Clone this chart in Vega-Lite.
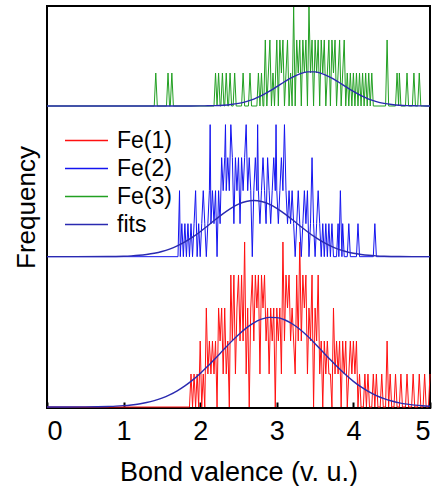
{
  "$schema": "https://vega.github.io/schema/vega-lite/v6.json",
  "width": 383,
  "height": 402,
  "autosize": {"type": "none"},
  "padding": {"left": 47, "top": 6, "right": 8, "bottom": 78},
  "config": {
    "view": {"stroke": "black", "strokeWidth": 2},
    "font": "Liberation Sans"
  },
  "datasets": {
    "red": [
      {"v":0,"n":0},{"v":1.86,"n":0},{"v":1.88,"n":1},{"v":1.90,"n":0},{"v":1.92,"n":1},{"v":1.94,"n":0},{"v":1.96,"n":1},{"v":1.98,"n":0},{"v":2.00,"n":2},{"v":2.02,"n":0},{"v":2.04,"n":1},{"v":2.06,"n":0},{"v":2.08,"n":3},{"v":2.10,"n":1},{"v":2.12,"n":2},{"v":2.14,"n":1},{"v":2.16,"n":2},{"v":2.18,"n":1},{"v":2.20,"n":2},{"v":2.22,"n":0},{"v":2.24,"n":3},{"v":2.26,"n":2},{"v":2.28,"n":3},{"v":2.30,"n":1},{"v":2.32,"n":3},{"v":2.34,"n":1},{"v":2.36,"n":2},{"v":2.38,"n":0},{"v":2.40,"n":4},{"v":2.42,"n":2},{"v":2.44,"n":4},{"v":2.46,"n":1},{"v":2.48,"n":3},{"v":2.50,"n":4},{"v":2.52,"n":2},{"v":2.54,"n":4},{"v":2.56,"n":2},{"v":2.58,"n":5},{"v":2.60,"n":1},{"v":2.62,"n":3},{"v":2.64,"n":0},{"v":2.66,"n":3},{"v":2.68,"n":4},{"v":2.70,"n":2},{"v":2.72,"n":4},{"v":2.74,"n":3},{"v":2.76,"n":4},{"v":2.78,"n":1},{"v":2.80,"n":4},{"v":2.82,"n":3},{"v":2.84,"n":4},{"v":2.86,"n":2},{"v":2.88,"n":3},{"v":2.90,"n":1},{"v":2.92,"n":3},{"v":2.94,"n":2},{"v":2.96,"n":3},{"v":2.98,"n":0},{"v":3.00,"n":3},{"v":3.02,"n":2},{"v":3.04,"n":3},{"v":3.06,"n":1},{"v":3.08,"n":5},{"v":3.10,"n":2},{"v":3.12,"n":4},{"v":3.14,"n":3},{"v":3.16,"n":4},{"v":3.18,"n":2},{"v":3.20,"n":3},{"v":3.22,"n":2},{"v":3.24,"n":1},{"v":3.26,"n":4},{"v":3.28,"n":2},{"v":3.30,"n":5},{"v":3.32,"n":2},{"v":3.34,"n":4},{"v":3.36,"n":3},{"v":3.38,"n":4},{"v":3.40,"n":1},{"v":3.42,"n":3},{"v":3.44,"n":2},{"v":3.46,"n":4},{"v":3.48,"n":0},{"v":3.50,"n":3},{"v":3.52,"n":2},{"v":3.54,"n":4},{"v":3.56,"n":1},{"v":3.58,"n":2},{"v":3.60,"n":0},{"v":3.62,"n":2},{"v":3.64,"n":1},{"v":3.66,"n":2},{"v":3.68,"n":1},{"v":3.70,"n":1},{"v":3.72,"n":0},{"v":3.74,"n":3},{"v":3.76,"n":1},{"v":3.78,"n":2},{"v":3.80,"n":1},{"v":3.82,"n":2},{"v":3.84,"n":0},{"v":3.86,"n":2},{"v":3.88,"n":1},{"v":3.90,"n":2},{"v":3.92,"n":0},{"v":3.94,"n":1},{"v":3.96,"n":2},{"v":3.98,"n":1},{"v":4.00,"n":2},{"v":4.02,"n":1},{"v":4.04,"n":2},{"v":4.06,"n":0},{"v":4.08,"n":1},{"v":4.10,"n":0},{"v":4.13,"n":0},{"v":4.15,"n":1},{"v":4.17,"n":0},{"v":4.19,"n":1},{"v":4.21,"n":0},{"v":4.24,"n":0},{"v":4.26,"n":1},{"v":4.28,"n":0},{"v":4.30,"n":1},{"v":4.32,"n":0},{"v":4.35,"n":0},{"v":4.37,"n":1},{"v":4.39,"n":0},{"v":4.42,"n":0},{"v":4.44,"n":2},{"v":4.46,"n":0},{"v":4.48,"n":1},{"v":4.50,"n":0},{"v":4.53,"n":0},{"v":4.55,"n":1},{"v":4.57,"n":0},{"v":4.60,"n":0},{"v":4.62,"n":1},{"v":4.64,"n":0},{"v":4.68,"n":0},{"v":4.70,"n":1},{"v":4.72,"n":0},{"v":4.76,"n":0},{"v":4.78,"n":1},{"v":4.80,"n":0},{"v":4.84,"n":0},{"v":4.86,"n":1},{"v":4.88,"n":0},{"v":4.91,"n":0},{"v":4.93,"n":1},{"v":4.95,"n":0},{"v":4.98,"n":0},{"v":5.00,"n":1}
    ],
    "blue": [
      {"v":0,"n":0},{"v":1.71,"n":0},{"v":1.73,"n":2},{"v":1.74,"n":0},{"v":1.76,"n":1},{"v":1.78,"n":0},{"v":1.80,"n":1},{"v":1.82,"n":0},{"v":1.84,"n":1},{"v":1.86,"n":0},{"v":1.88,"n":1},{"v":1.90,"n":0},{"v":1.92,"n":1},{"v":1.94,"n":2},{"v":1.96,"n":0},{"v":1.98,"n":1},{"v":2.00,"n":0},{"v":2.02,"n":1},{"v":2.04,"n":2},{"v":2.06,"n":1},{"v":2.08,"n":0},{"v":2.10,"n":1},{"v":2.12,"n":2},{"v":2.13,"n":4},{"v":2.14,"n":1},{"v":2.16,"n":2},{"v":2.18,"n":1},{"v":2.20,"n":2},{"v":2.22,"n":0},{"v":2.24,"n":2},{"v":2.26,"n":1},{"v":2.28,"n":3},{"v":2.30,"n":2},{"v":2.32,"n":3},{"v":2.33,"n":4},{"v":2.34,"n":2},{"v":2.36,"n":3},{"v":2.38,"n":2},{"v":2.40,"n":4},{"v":2.42,"n":3},{"v":2.44,"n":1},{"v":2.46,"n":3},{"v":2.48,"n":2},{"v":2.50,"n":3},{"v":2.52,"n":1},{"v":2.54,"n":3},{"v":2.56,"n":2},{"v":2.58,"n":3},{"v":2.60,"n":4},{"v":2.62,"n":2},{"v":2.64,"n":3},{"v":2.66,"n":2},{"v":2.68,"n":0},{"v":2.70,"n":2},{"v":2.72,"n":3},{"v":2.74,"n":2},{"v":2.75,"n":4},{"v":2.76,"n":2},{"v":2.78,"n":1},{"v":2.80,"n":2},{"v":2.82,"n":3},{"v":2.84,"n":2},{"v":2.86,"n":1},{"v":2.88,"n":3},{"v":2.90,"n":2},{"v":2.92,"n":1},{"v":2.94,"n":2},{"v":2.96,"n":3},{"v":2.98,"n":2},{"v":2.99,"n":4},{"v":3.00,"n":2},{"v":3.02,"n":1},{"v":3.04,"n":2},{"v":3.06,"n":3},{"v":3.08,"n":2},{"v":3.10,"n":4},{"v":3.12,"n":2},{"v":3.14,"n":1},{"v":3.16,"n":2},{"v":3.18,"n":1},{"v":3.20,"n":2},{"v":3.22,"n":1},{"v":3.24,"n":0},{"v":3.26,"n":1},{"v":3.28,"n":2},{"v":3.30,"n":1},{"v":3.32,"n":0},{"v":3.34,"n":1},{"v":3.36,"n":2},{"v":3.38,"n":1},{"v":3.40,"n":2},{"v":3.42,"n":0},{"v":3.44,"n":1},{"v":3.46,"n":3},{"v":3.48,"n":1},{"v":3.50,"n":0},{"v":3.52,"n":1},{"v":3.54,"n":2},{"v":3.56,"n":1},{"v":3.58,"n":0},{"v":3.60,"n":1},{"v":3.62,"n":0},{"v":3.64,"n":1},{"v":3.66,"n":0},{"v":3.68,"n":1},{"v":3.70,"n":0},{"v":3.72,"n":1},{"v":3.74,"n":0},{"v":3.78,"n":0},{"v":3.80,"n":1},{"v":3.81,"n":0},{"v":3.83,"n":2},{"v":3.85,"n":0},{"v":3.86,"n":1},{"v":3.88,"n":0},{"v":3.92,"n":0},{"v":3.94,"n":1},{"v":3.96,"n":0},{"v":4.04,"n":0},{"v":4.06,"n":1},{"v":4.08,"n":0},{"v":4.26,"n":0},{"v":4.28,"n":1},{"v":4.30,"n":0},{"v":5.0,"n":0}
    ],
    "green": [
      {"v":0,"n":0},{"v":1.40,"n":0},{"v":1.42,"n":1},{"v":1.44,"n":0},{"v":1.56,"n":0},{"v":1.58,"n":1},{"v":1.60,"n":0},{"v":1.61,"n":0},{"v":1.63,"n":1},{"v":1.65,"n":0},{"v":2.18,"n":0},{"v":2.20,"n":1},{"v":2.22,"n":0},{"v":2.24,"n":1},{"v":2.26,"n":0},{"v":2.27,"n":0},{"v":2.29,"n":1},{"v":2.31,"n":0},{"v":2.32,"n":0},{"v":2.34,"n":1},{"v":2.36,"n":0},{"v":2.37,"n":0},{"v":2.39,"n":1},{"v":2.41,"n":0},{"v":2.43,"n":0},{"v":2.45,"n":1},{"v":2.47,"n":0},{"v":2.54,"n":0},{"v":2.56,"n":1},{"v":2.58,"n":0},{"v":2.63,"n":0},{"v":2.65,"n":1},{"v":2.67,"n":0},{"v":2.74,"n":0},{"v":2.76,"n":1},{"v":2.78,"n":0},{"v":2.80,"n":1},{"v":2.82,"n":0},{"v":2.83,"n":0},{"v":2.85,"n":2},{"v":2.87,"n":0},{"v":2.89,"n":1},{"v":2.91,"n":2},{"v":2.93,"n":0},{"v":2.95,"n":1},{"v":2.97,"n":0},{"v":3.00,"n":2},{"v":3.02,"n":0},{"v":3.04,"n":2},{"v":3.06,"n":1},{"v":3.08,"n":2},{"v":3.10,"n":0},{"v":3.12,"n":1},{"v":3.14,"n":2},{"v":3.16,"n":0},{"v":3.18,"n":1},{"v":3.20,"n":0},{"v":3.22,"n":3},{"v":3.24,"n":0},{"v":3.26,"n":2},{"v":3.28,"n":1},{"v":3.30,"n":2},{"v":3.32,"n":0},{"v":3.34,"n":2},{"v":3.36,"n":1},{"v":3.38,"n":2},{"v":3.40,"n":0},{"v":3.42,"n":3},{"v":3.44,"n":1},{"v":3.46,"n":2},{"v":3.48,"n":0},{"v":3.50,"n":2},{"v":3.52,"n":1},{"v":3.54,"n":2},{"v":3.56,"n":0},{"v":3.58,"n":2},{"v":3.60,"n":1},{"v":3.62,"n":2},{"v":3.64,"n":0},{"v":3.66,"n":1},{"v":3.68,"n":2},{"v":3.70,"n":0},{"v":3.72,"n":2},{"v":3.74,"n":1},{"v":3.76,"n":2},{"v":3.78,"n":0},{"v":3.80,"n":1},{"v":3.82,"n":2},{"v":3.84,"n":0},{"v":3.86,"n":1},{"v":3.88,"n":2},{"v":3.90,"n":0},{"v":3.92,"n":1},{"v":3.94,"n":0},{"v":3.96,"n":1},{"v":3.98,"n":0},{"v":4.00,"n":1},{"v":4.02,"n":0},{"v":4.04,"n":1},{"v":4.06,"n":0},{"v":4.08,"n":1},{"v":4.10,"n":0},{"v":4.12,"n":1},{"v":4.14,"n":0},{"v":4.16,"n":1},{"v":4.18,"n":0},{"v":4.20,"n":1},{"v":4.22,"n":0},{"v":4.24,"n":1},{"v":4.26,"n":0},{"v":4.42,"n":0},{"v":4.44,"n":2},{"v":4.46,"n":0},{"v":4.55,"n":0},{"v":4.57,"n":1},{"v":4.59,"n":0},{"v":4.60,"n":1},{"v":4.62,"n":0},{"v":4.68,"n":0},{"v":4.70,"n":1},{"v":4.72,"n":0},{"v":4.77,"n":0},{"v":4.79,"n":1},{"v":4.81,"n":0},{"v":4.84,"n":0},{"v":4.86,"n":1},{"v":4.88,"n":0},{"v":5.0,"n":0}
    ],
    "fitR": [
      {"v":0,"n":0},{"v":0.5,"n":0.004},{"v":0.8,"n":0.017},{"v":0.9,"n":0.026},{"v":1.0,"n":0.041},{"v":1.1,"n":0.063},{"v":1.2,"n":0.093},{"v":1.3,"n":0.136},{"v":1.4,"n":0.194},{"v":1.5,"n":0.270},{"v":1.6,"n":0.368},{"v":1.7,"n":0.491},{"v":1.8,"n":0.640},{"v":1.9,"n":0.815},{"v":2.0,"n":1.016},{"v":2.1,"n":1.240},{"v":2.2,"n":1.478},{"v":2.3,"n":1.723},{"v":2.4,"n":1.966},{"v":2.5,"n":2.192},{"v":2.6,"n":2.391},{"v":2.7,"n":2.551},{"v":2.8,"n":2.661},{"v":2.9,"n":2.715},{"v":3.0,"n":2.709},{"v":3.1,"n":2.644},{"v":3.2,"n":2.523},{"v":3.3,"n":2.354},{"v":3.4,"n":2.149},{"v":3.5,"n":1.918},{"v":3.6,"n":1.674},{"v":3.7,"n":1.429},{"v":3.8,"n":1.194},{"v":3.9,"n":0.975},{"v":4.0,"n":0.778},{"v":4.1,"n":0.608},{"v":4.2,"n":0.464},{"v":4.3,"n":0.347},{"v":4.4,"n":0.253},{"v":4.5,"n":0.181},{"v":4.6,"n":0.126},{"v":4.7,"n":0.086},{"v":4.8,"n":0.058},{"v":4.9,"n":0.038},{"v":5.0,"n":0.024}
    ],
    "fitB": [
      {"v":0,"n":0},{"v":0.8,"n":0.004},{"v":1.0,"n":0.014},{"v":1.1,"n":0.025},{"v":1.2,"n":0.041},{"v":1.3,"n":0.067},{"v":1.4,"n":0.104},{"v":1.5,"n":0.157},{"v":1.6,"n":0.230},{"v":1.7,"n":0.326},{"v":1.8,"n":0.446},{"v":1.9,"n":0.590},{"v":2.0,"n":0.756},{"v":2.1,"n":0.938},{"v":2.2,"n":1.125},{"v":2.3,"n":1.305},{"v":2.4,"n":1.465},{"v":2.5,"n":1.591},{"v":2.6,"n":1.672},{"v":2.7,"n":1.700},{"v":2.8,"n":1.672},{"v":2.9,"n":1.591},{"v":3.0,"n":1.465},{"v":3.1,"n":1.305},{"v":3.2,"n":1.125},{"v":3.3,"n":0.938},{"v":3.4,"n":0.756},{"v":3.5,"n":0.590},{"v":3.6,"n":0.446},{"v":3.7,"n":0.326},{"v":3.8,"n":0.230},{"v":3.9,"n":0.157},{"v":4.0,"n":0.104},{"v":4.1,"n":0.067},{"v":4.2,"n":0.041},{"v":4.3,"n":0.025},{"v":4.4,"n":0.014},{"v":4.6,"n":0.004},{"v":5.0,"n":0}
    ],
    "fitG": [
      {"v":0,"n":0},{"v":1.8,"n":0},{"v":2.0,"n":0.003},{"v":2.1,"n":0.006},{"v":2.2,"n":0.012},{"v":2.3,"n":0.024},{"v":2.4,"n":0.046},{"v":2.5,"n":0.081},{"v":2.6,"n":0.134},{"v":2.7,"n":0.211},{"v":2.8,"n":0.314},{"v":2.9,"n":0.441},{"v":3.0,"n":0.586},{"v":3.1,"n":0.735},{"v":3.2,"n":0.871},{"v":3.3,"n":0.976},{"v":3.4,"n":1.033},{"v":3.5,"n":1.033},{"v":3.6,"n":0.976},{"v":3.7,"n":0.871},{"v":3.8,"n":0.735},{"v":3.9,"n":0.586},{"v":4.0,"n":0.441},{"v":4.1,"n":0.314},{"v":4.2,"n":0.211},{"v":4.3,"n":0.134},{"v":4.4,"n":0.081},{"v":4.5,"n":0.046},{"v":4.6,"n":0.024},{"v":4.7,"n":0.012},{"v":4.8,"n":0.006},{"v":4.9,"n":0.003},{"v":5.0,"n":0.001}
    ]
  },
  "layer": [
    {
      "layer": [
        {
          "data": {"name": "red"},
          "mark": {"type": "line", "strokeWidth": 1},
          "encoding": {
            "x": {"field": "v", "type": "quantitative", "scale": {"domain": [0, 5], "nice": false},
              "axis": {"title": "Bond valence (v. u.)", "values": [0,1,2,3,4,5], "format": "d", "tickSize": -6, "tickColor": "black", "tickWidth": 2, "domain": false, "grid": false,
                "labelFont": "Liberation Sans", "labelFontSize": 27, "labelColor": "black", "labelPadding": 16,
                "titleFont": "Liberation Sans", "titleFontSize": 27, "titleFontWeight": "normal", "titleColor": "black", "titlePadding": 15}},
            "y": {"field": "n", "type": "quantitative", "scale": {"domain": [-0.03, 12.15], "nice": false, "zero": false},
              "axis": {"title": "Frequency", "labels": false, "ticks": false, "domain": false, "grid": false,
                "titleFont": "Liberation Sans", "titleFontSize": 26, "titleFontWeight": "normal", "titleColor": "black", "titlePadding": 8}},
            "color": {"datum": "Fe(1)", "type": "nominal",
              "scale": {"domain": ["Fe(1)", "Fe(2)", "Fe(3)", "fits"], "range": ["#ff1010", "#1414f0", "#22a022", "#2a2ab0"]},
              "legend": {"title": null, "orient": "none", "legendX": 28, "legendY": 123, "symbolType": "M-2,0H2", "symbolSize": 462, "symbolStrokeWidth": 1.5,
                "labelFont": "Liberation Sans", "labelFontSize": 23, "labelColor": "black", "labelOffset": 19, "rowPadding": 4, "labelLimit": 200}}
          }
        },
        {
          "data": {"name": "fitR"},
          "mark": {"type": "line", "strokeWidth": 1.4, "interpolate": "monotone"},
          "encoding": {
            "x": {"field": "v", "type": "quantitative"},
            "y": {"field": "n", "type": "quantitative"},
            "color": {"datum": "fits", "type": "nominal"}
          }
        }
      ]
    },
    {
      "layer": [
        {
          "data": {"name": "blue"},
          "mark": {"type": "line", "strokeWidth": 1},
          "encoding": {
            "x": {"field": "v", "type": "quantitative"},
            "y": {"field": "n", "type": "quantitative", "scale": {"domain": [-4.585, 7.595], "nice": false, "zero": false}, "axis": null},
            "color": {"datum": "Fe(2)", "type": "nominal"}
          }
        },
        {
          "data": {"name": "fitB"},
          "mark": {"type": "line", "strokeWidth": 1.4, "interpolate": "monotone"},
          "encoding": {
            "x": {"field": "v", "type": "quantitative"},
            "y": {"field": "n", "type": "quantitative", "axis": null},
            "color": {"datum": "fits", "type": "nominal"}
          }
        }
      ]
    },
    {
      "layer": [
        {
          "data": {"name": "green"},
          "mark": {"type": "line", "strokeWidth": 1},
          "encoding": {
            "x": {"field": "v", "type": "quantitative"},
            "y": {"field": "n", "type": "quantitative", "scale": {"domain": [-9.15, 3.03], "nice": false, "zero": false}, "axis": null},
            "color": {"datum": "Fe(3)", "type": "nominal"}
          }
        },
        {
          "data": {"name": "fitG"},
          "mark": {"type": "line", "strokeWidth": 1.4, "interpolate": "monotone"},
          "encoding": {
            "x": {"field": "v", "type": "quantitative"},
            "y": {"field": "n", "type": "quantitative", "axis": null},
            "color": {"datum": "fits", "type": "nominal"}
          }
        }
      ]
    }
  ],
  "resolve": {"scale": {"y": "independent"}, "axis": {"y": "independent"}}
}
